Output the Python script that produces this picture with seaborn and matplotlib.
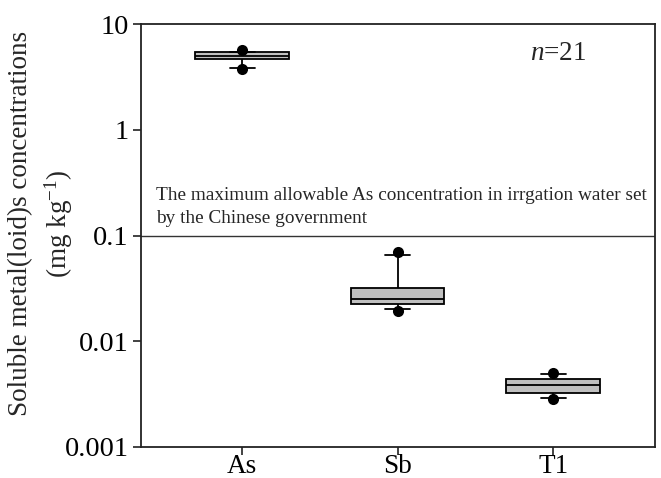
import matplotlib
matplotlib.use("Agg")
import matplotlib.pyplot as plt
from matplotlib.ticker import NullLocator
import pandas as pd
import seaborn as sns

# Summary statistics of soluble concentrations (mg kg-1), n = 21
elements = ["As", "Sb", "T1"]
whisker_low = [3.86, 0.0202, 0.00292]   # 10th percentile
q1 = [4.63, 0.0225, 0.00326]
median = [4.95, 0.0252, 0.00386]
q3 = [5.40, 0.0321, 0.00440]
whisker_high = [5.47, 0.0655, 0.00490]  # 90th percentile
p5 = [3.75, 0.0193, 0.00284]            # 5th percentile
p95 = [5.68, 0.0703, 0.00497]           # 95th percentile

as_limit = 0.1
n_samples = 21
y_ticks = [0.001, 0.01, 0.1, 1, 10]
y_tick_labels = ["0.001", "0.01", "0.1", "1", "10"]

sns.set_style("ticks")
plt.rcParams["font.family"] = ["Liberation Serif", "DejaVu Serif"]
plt.rcParams["mathtext.fontset"] = "custom"
plt.rcParams["mathtext.rm"] = "Liberation Serif"
plt.rcParams["mathtext.it"] = "Liberation Serif:italic"

# Five values per element reproduce the box statistics exactly
box_rows = []
for i, el in enumerate(elements):
    for v in (whisker_low[i], q1[i], median[i], q3[i], whisker_high[i]):
        box_rows.append({"element": el, "value": v})
box_df = pd.DataFrame(box_rows)

dot_df = pd.DataFrame({
    "element": elements + elements,
    "value": p5 + p95,
})

fig = plt.figure(figsize=(6.61, 4.78), dpi=100)
ax = fig.add_axes([141 / 661, 1 - 447 / 478, (655 - 141) / 661, (447 - 24) / 478])

sns.boxplot(
    data=box_df, x="element", y="value", order=elements,
    whis=(0, 100), width=0.6, log_scale=True,
    color="#c0c0c0", linecolor="black", linewidth=1.3,
    capwidths=0.16, ax=ax,
)
sns.stripplot(
    data=dot_df, x="element", y="value", order=elements,
    jitter=False, color="black", size=8, linewidth=0, ax=ax,
)

ax.axhline(as_limit, color="#333333", lw=1.0, zorder=0.5)

ax.set_ylim(0.001, 10)
ax.set_xlim(-0.65, 2.655)
ax.set_yticks(y_ticks)
ax.set_yticklabels(y_tick_labels)
ax.yaxis.set_minor_locator(NullLocator())
ax.set_xlabel("")
ax.set_ylabel("Soluble metal(loid)s concentrations\n(mg kg$^{-1}$)",
              fontsize=19.5, linespacing=1.4)
ax.yaxis.set_label_coords(-0.128, 0.528)

for s in ax.spines.values():
    s.set_visible(True)
    s.set_linewidth(1.3)
    s.set_color("#222222")
ax.tick_params(axis="both", direction="out", length=6, width=1.2,
               labelsize=20.5, colors="#222222", labelcolor="black",
               top=False, right=False)
ax.tick_params(axis="x", pad=-1, labelsize=19.5)
ax.tick_params(axis="y", pad=3)

ax.text(-0.553, 0.217,
        "The maximum allowable As concentration in irrgation water set",
        fontsize=13.9, va="baseline", ha="left")
ax.text(-0.553, 0.131, "by the Chinese government",
        fontsize=13.9, va="baseline", ha="left")
ax.text(1.852, 4.57, f"$\\mathit{{n}}$={n_samples}",
        fontsize=19.5, va="baseline", ha="left")

fig.savefig("out.png", dpi=100)
